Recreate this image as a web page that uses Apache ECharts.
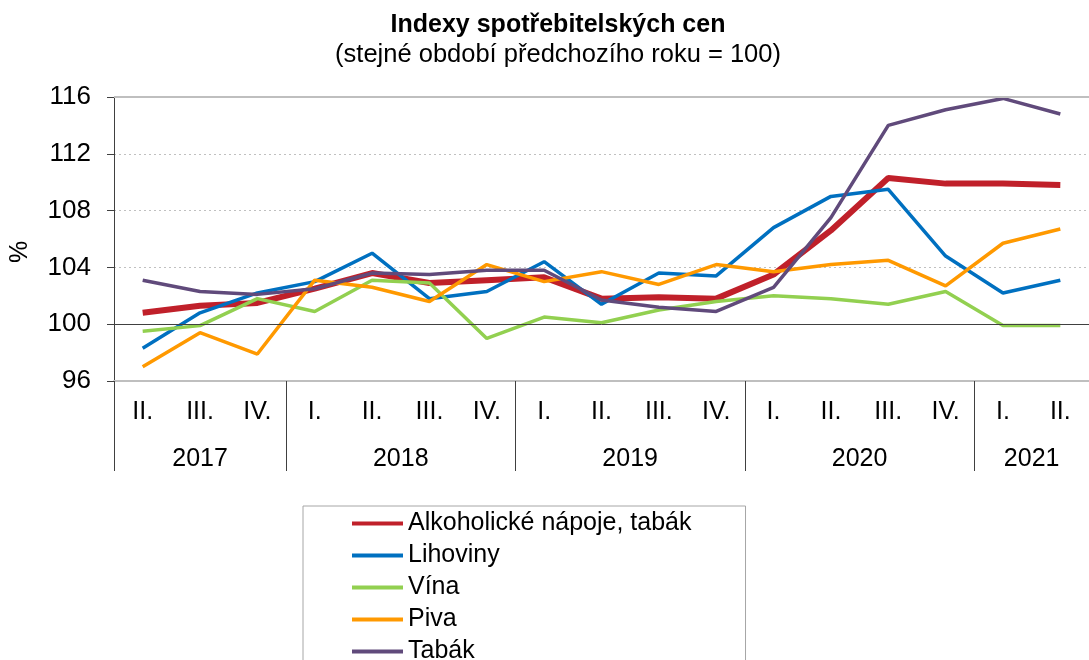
<!DOCTYPE html>
<html>
<head>
<meta charset="utf-8">
<script src="https://cdn.jsdelivr.net/npm/echarts@6/dist/echarts.min.js"></script>
<style>
  html, body { margin: 0; padding: 0; background: #fff; }
  #main { width: 1089px; height: 660px; }
</style>
</head>
<body>
<div id="main"></div>
<script>
// ctvrtleti a roky
const quarters = ["II.", "III.", "IV.", "I.", "II.", "III.", "IV.", "I.", "II.", "III.", "IV.", "I.", "II.", "III.", "IV.", "I.", "II."];
const yearOf = [2017, 2017, 2017, 2018, 2018, 2018, 2018, 2019, 2019, 2019, 2019, 2020, 2020, 2020, 2020, 2021, 2021];

const alkoholicke = [100.8, 101.3, 101.5, 102.5, 103.6, 102.9, 103.1, 103.3, 101.8, 101.9, 101.8, 103.5, 106.6, 110.3, 109.9, 109.9, 109.8];
const lihoviny = [98.3, 100.8, 102.2, 103.0, 105.0, 101.8, 102.3, 104.4, 101.4, 103.6, 103.4, 106.8, 109.0, 109.5, 104.8, 102.2, 103.1];
const vina = [99.5, 99.9, 101.8, 100.9, 103.1, 102.9, 99.0, 100.5, 100.1, 101.0, 101.6, 102.0, 101.8, 101.4, 102.3, 99.9, 99.9];
const piva = [97.0, 99.4, 97.9, 103.1, 102.6, 101.6, 104.2, 103.0, 103.7, 102.8, 104.2, 103.7, 104.2, 104.5, 102.7, 105.7, 106.7];
const tabak = [103.1, 102.3, 102.1, 102.5, 103.6, 103.5, 103.8, 103.8, 101.7, 101.2, 100.9, 102.6, 107.5, 114.0, 115.1, 115.9, 114.8];

const font = "'Liberation Sans', Arial, sans-serif";

// stredy roku a hranice mezi roky (v jednotkach kategorii)
const years = [];
const yearCenters = [];
const yearBounds = [];
yearOf.forEach((y, i) => {
  if (i === 0 || yearOf[i - 1] !== y) {
    years.push(y);
    yearBounds.push(i);
  }
});
years.forEach((y, k) => {
  const start = yearBounds[k];
  const end = k + 1 < yearBounds.length ? yearBounds[k + 1] : yearOf.length;
  yearCenters.push((start + end) / 2);
});

function line(name, data, color, width) {
  return {
    name: name,
    type: "line",
    data: data,
    symbol: "none",
    color: color,
    itemStyle: { color: color },
    lineStyle: { color: color, width: width },
  };
}

const myChart = echarts.init(document.getElementById("main"));

const series = [
  line("Alkoholické nápoje, tabák", alkoholicke, "#c0202a", 6),
  line("Lihoviny", lihoviny, "#0070c0", 3.5),
  line("Vína", vina, "#92d050", 3.5),
  line("Piva", piva, "#ff9900", 3.5),
  line("Tabák", tabak, "#604a7b", 3.5),
];
// vodorovna cara 100 a horni okraj
series[0].markLine = {
  silent: true,
  symbol: ["none", "none"],
  label: { show: false },
  data: [
    { yAxis: 100, lineStyle: { color: "#404040", width: 1, type: "solid" } },
    { yAxis: 116, lineStyle: { color: "#bfbfbf", width: 2, type: "solid" } },
  ],
};

const option = {
  animation: false,
  textStyle: { fontFamily: font },
  title: {
    text: "Indexy spotřebitelských cen",
    subtext: "(stejné období předchozího roku = 100)",
    left: 553,
    textAlign: "center",
    top: 6,
    itemGap: 2,
    textStyle: { fontFamily: font, fontSize: 25, fontWeight: "bold", color: "#000", lineHeight: 28 },
    subtextStyle: { fontFamily: font, fontSize: 25.5, color: "#000", lineHeight: 28 },
  },
  graphic: [
    {
      type: "text",
      x: 20,
      y: 252,
      rotation: Math.PI / 2,
      style: { text: "%", font: "25px " + font, fill: "#000", align: "center", verticalAlign: "middle" },
    },
  ],
  legend: {
    show: true,
    orient: "vertical",
    left: 303,
    top: 506,
    height: 180,
    padding: [5, 54, 20, 49],
    borderColor: "#a6a6a6",
    borderWidth: 1,
    icon: "rect",
    itemWidth: 51,
    itemHeight: 4,
    itemGap: 7,
    textStyle: { fontFamily: font, fontSize: 25, color: "#000", lineHeight: 24 },
    data: series.map((s) => ({
      name: s.name,
      itemStyle: { color: s.color },
      lineStyle: { color: s.color, width: s.lineStyle.width > 5 ? 6 : 4, cap: "round" },
    })),
  },
  grid: { left: 114, top: 97, width: 988, height: 284 },
  xAxis: [
    {
      type: "category",
      data: quarters,
      boundaryGap: true,
      axisLine: { lineStyle: { color: "#bfbfbf", width: 2 } },
      axisTick: {
        show: true,
        length: 90,
        interval: (index) => yearBounds.indexOf(index) !== -1,
        lineStyle: { color: "#404040", width: 1 },
      },
      axisLabel: { interval: 0, fontFamily: font, fontSize: 25, color: "#000", margin: 19 },
      splitLine: { show: false },
    },
    {
      type: "value",
      min: 0,
      max: quarters.length,
      position: "bottom",
      axisLine: { show: false },
      axisTick: { show: false },
      splitLine: { show: false },
      axisLabel: {
        customValues: yearCenters,
        formatter: (v) => {
          const k = yearCenters.indexOf(v);
          return k === -1 ? "" : String(years[k]);
        },
        fontFamily: font,
        fontSize: 25,
        color: "#000",
        margin: 66,
      },
    },
  ],
  yAxis: {
    type: "value",
    min: 96,
    max: 116,
    interval: 4,
    axisLine: { show: true, lineStyle: { color: "#404040", width: 1 } },
    axisTick: { show: true, length: 7, lineStyle: { color: "#404040" } },
    axisLabel: { fontFamily: font, fontSize: 26, color: "#000", margin: 23 },
    splitLine: { show: true, lineStyle: { color: "#c0c0c0", type: [2, 3], width: 1 } },
  },
  series: series,
};

myChart.setOption(option);
</script>
</body>
</html>
